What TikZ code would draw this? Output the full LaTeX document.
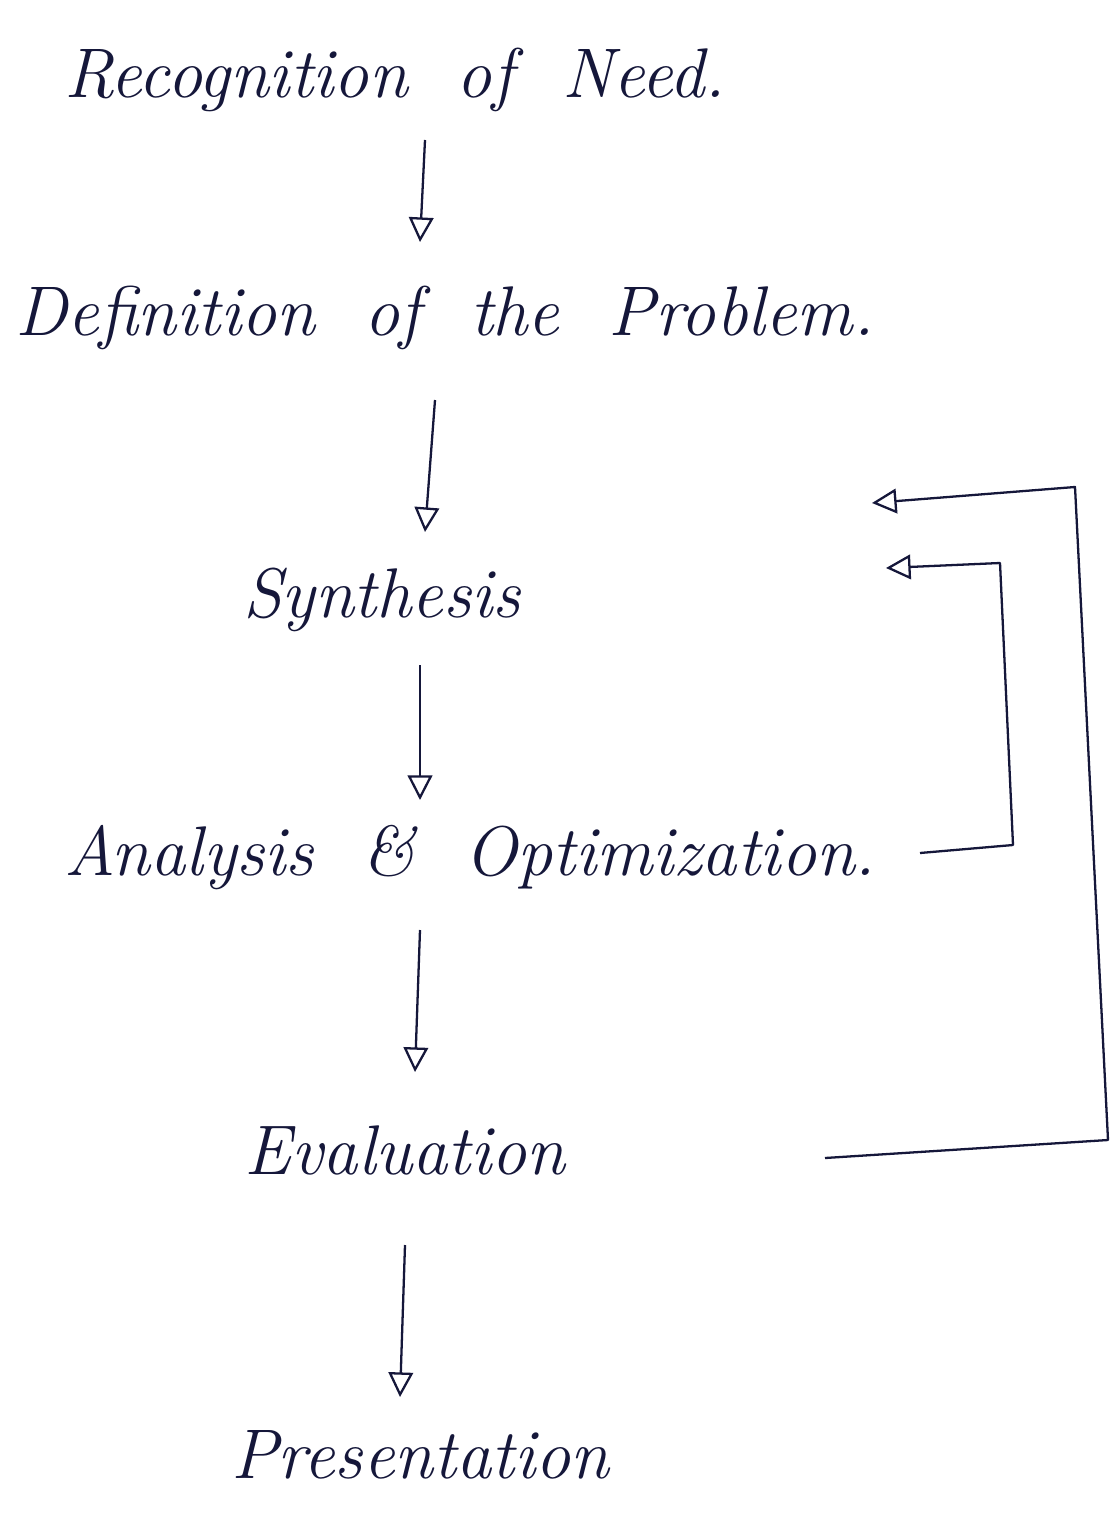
\documentclass[tikz,border=0pt]{standalone}
\usetikzlibrary{arrows.meta,calc}
\definecolor{ink}{HTML}{15173A}
\begin{document}
\begin{tikzpicture}[x=0.02cm,y=-0.02cm,
  lbl/.style={inner sep=0pt,text=ink,font=\fontsize{40}{48}\selectfont\itshape},
  flow/.style={draw=ink,line width=1.3pt,-{Triangle[open,length=14pt,width=14pt,line width=1.3pt]}},
  back/.style={draw=ink,line width=1.3pt,line join=round,-{Triangle[open,length=14pt,width=14pt,line width=1.3pt]}}]
\useasboundingbox[fill=white] (0,0) rectangle (1112,1517);
\node[lbl] (rec) at (395,80) {Recognition\ \ of\ \ Need.};
\node[lbl] (def) at (445,318) {Definition\ \ of\ \ the\ \ Problem.};
\node[lbl] (syn) at (382,600) {Synthesis};
\node[lbl] (ana) at (470,858) {Analysis\ \ \&\ \ Optimization.};
\node[lbl] (eva) at (405,1150) {Evaluation};
\node[lbl] (pre) at (420,1455) {Presentation};
% main flow
\coordinate (a1s) at (425,140); \coordinate (a1e) at (420,242);
\coordinate (a2s) at (435,400); \coordinate (a2e) at (425,532);
\coordinate (a3s) at (420,665); \coordinate (a3e) at (420,800);
\coordinate (a4s) at (420,930); \coordinate (a4e) at (415,1072);
\coordinate (a5s) at (405,1245); \coordinate (a5e) at (400,1397);
\draw[flow] (a1s) -- (a1e);
\draw[flow] (a2s) -- (a2e);
\draw[flow] (a3s) -- (a3e);
\draw[flow] (a4s) -- (a4e);
\draw[flow] (a5s) -- (a5e);
% feedback loops
\coordinate (f1s) at (920,853); \coordinate (f1e) at (886,568);
\coordinate (f2s) at (825,1158); \coordinate (f2e) at (872,503);
\draw[back] (f1s) -- (1013,845) -- (1000,563) -- (f1e);
\draw[back] (f2s) -- (1108,1140) -- (1075,487) -- (f2e);
\end{tikzpicture}
\end{document}
